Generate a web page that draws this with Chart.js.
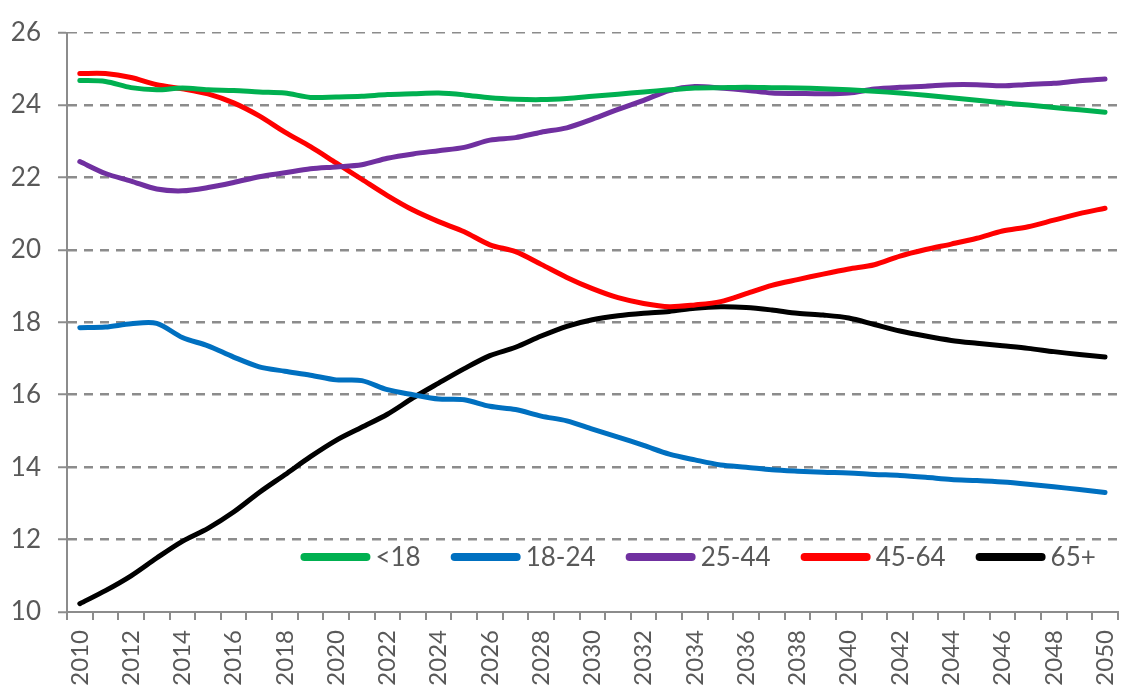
<!DOCTYPE html>
<html>
<head>
<meta charset="utf-8">
<script src="https://cdn.jsdelivr.net/npm/chart.js@4"></script>
<style>
    html, body { margin: 0; padding: 0; background: #fff; }
    #wrap { width: 1144px; height: 694px; }
</style>
</head>
<body>
<div id="wrap"><canvas id="popChart"></canvas></div>
<script>
// years along the bottom
const years = [];
for (let y = 2010; y <= 2050; y++) years.push(String(y));

// share of population by age group (%)
const under18 = [24.68, 24.65, 24.48, 24.42, 24.47, 24.42, 24.40, 24.36, 24.33, 24.21,
    24.22, 24.24, 24.29, 24.31, 24.33, 24.28, 24.20, 24.16, 24.15, 24.18,
    24.24, 24.30, 24.36, 24.42, 24.47, 24.48, 24.49, 24.48, 24.47, 24.45,
    24.42, 24.38, 24.33, 24.27, 24.20, 24.13, 24.06, 24.00, 23.93, 23.87, 23.80];
const age18to24 = [17.85, 17.87, 17.96, 17.97, 17.58, 17.35, 17.04, 16.77, 16.65, 16.54,
    16.41, 16.39, 16.14, 16.00, 15.88, 15.86, 15.68, 15.59, 15.41, 15.28,
    15.05, 14.83, 14.60, 14.36, 14.20, 14.06, 14.00, 13.93, 13.89, 13.86,
    13.84, 13.80, 13.77, 13.72, 13.66, 13.63, 13.59, 13.53, 13.46, 13.38, 13.30];
const age25to44 = [22.44, 22.11, 21.90, 21.68, 21.63, 21.72, 21.86, 22.02, 22.13, 22.24,
    22.29, 22.35, 22.53, 22.65, 22.74, 22.83, 23.03, 23.10, 23.25, 23.37,
    23.61, 23.88, 24.13, 24.40, 24.51, 24.47, 24.41, 24.33, 24.32, 24.31,
    24.33, 24.44, 24.49, 24.52, 24.56, 24.56, 24.53, 24.57, 24.60, 24.67, 24.72];
const age45to64 = [24.87, 24.87, 24.76, 24.56, 24.45, 24.31, 24.06, 23.70, 23.25, 22.85,
    22.40, 21.95, 21.50, 21.10, 20.78, 20.50, 20.14, 19.95, 19.60, 19.24,
    18.93, 18.68, 18.52, 18.43, 18.48, 18.57, 18.79, 19.02, 19.18, 19.33,
    19.47, 19.59, 19.83, 20.01, 20.16, 20.32, 20.52, 20.64, 20.82, 21.00, 21.15];
const age65plus = [10.23, 10.59, 11.00, 11.49, 11.95, 12.31, 12.76, 13.30, 13.79, 14.29,
    14.74, 15.10, 15.46, 15.91, 16.32, 16.72, 17.08, 17.31, 17.62, 17.89,
    18.07, 18.18, 18.25, 18.30, 18.39, 18.43, 18.41, 18.34, 18.25, 18.20,
    18.12, 17.94, 17.76, 17.62, 17.50, 17.42, 17.35, 17.28, 17.19, 17.11, 17.04];

const seriesNames = ["<18", "18-24", "25-44", "45-64", "65+"];
const seriesColors = ["#00b050", "#0070c0", "#7030a0", "#ff0000", "#000000"];
const seriesData = [under18, age18to24, age25to44, age45to64, age65plus];

const textColor = "#595959";
const axisColor = "#8c8c8c";
const fontFamily = "Lato, 'Open Sans', sans-serif";

// legend sits inside the plot, near the bottom, like the Excel original
const insideLegend = {
    id: "insideLegend",
    afterDraw(chart) {
        const ctx = chart.ctx;
        const area = chart.chartArea;
        const y = area.bottom - 55;
        const lineLen = 70;
        ctx.save();
        ctx.font = "26px " + fontFamily;
        ctx.textBaseline = "middle";
        // measure so the row ends near the right edge
        let total = 0;
        chart.data.datasets.forEach((ds, i) => {
            total += lineLen + 5 + ctx.measureText(ds.label).width;
            if (i > 0) total += 30;
        });
        let x = area.right - 22 - total;
        chart.data.datasets.forEach((ds) => {
            ctx.strokeStyle = ds.borderColor;
            ctx.lineWidth = 8;
            ctx.lineCap = "round";
            ctx.beginPath();
            ctx.moveTo(x + 4, y);
            ctx.lineTo(x + lineLen - 4, y);
            ctx.stroke();
            x += lineLen + 5;
            ctx.fillStyle = textColor;
            ctx.fillText(ds.label, x, y + 1);
            x += ctx.measureText(ds.label).width + 30;
        });
        ctx.restore();
    }
};

new Chart(document.getElementById("popChart"), {
    type: "line",
    data: {
        labels: years,
        datasets: seriesData.map((d, i) => ({
            label: seriesNames[i],
            data: d,
            borderColor: seriesColors[i],
            backgroundColor: seriesColors[i],
            borderWidth: 5,
            tension: 0.3,
            pointRadius: 0,
            borderCapStyle: "round",
            fill: false
        }))
    },
    options: {
        responsive: true,
        maintainAspectRatio: false,
        animation: false,
        layout: { padding: { top: 20, right: 14, left: 0, bottom: 0 } },
        plugins: {
            legend: { display: false },
            tooltip: { enabled: false }
        },
        scales: {
            x: {
                offset: true,
                grid: {
                    offset: true,
                    drawOnChartArea: false,
                    drawTicks: true,
                    tickLength: 8,
                    color: axisColor,
                    lineWidth: 2
                },
                border: { color: axisColor, width: 2 },
                ticks: {
                    autoSkip: false,
                    minRotation: 90,
                    maxRotation: 90,
                    padding: 10,
                    color: textColor,
                    font: { family: fontFamily, size: 24 },
                    // only every second year gets a label
                    callback: (v, i) => (i % 2 === 0 ? years[i] : "")
                },
                afterFit: (scale) => { scale.height = 82; }
            },
            y: {
                min: 10,
                max: 26,
                ticks: {
                    stepSize: 2,
                    padding: 17,
                    color: textColor,
                    font: { family: fontFamily, size: 26 }
                },
                grid: {
                    color: (c) => (c.tick && c.tick.value === 10 ? "rgba(0,0,0,0)" : axisColor),
                    lineWidth: (c) => (c.tick && c.tick.value === 26 ? 1.5 : 2.5),
                    tickLength: 9,
                    tickColor: axisColor,
                    tickWidth: 2,
                    tickBorderDash: []
                },
                border: { color: axisColor, width: 2, dash: [9, 7] },
                afterFit: (scale) => { scale.width = 67; }
            }
        }
    },
    plugins: [insideLegend]
});
</script>
</body>
</html>
